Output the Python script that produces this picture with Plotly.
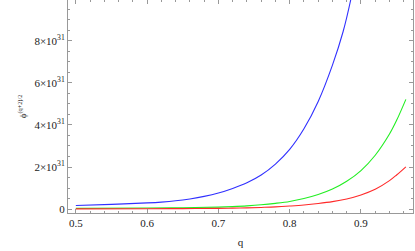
import plotly.graph_objects as go

# q values and series (units of 1e31)
q_blue = [0.50, 0.55, 0.60, 0.62, 0.64, 0.66, 0.68, 0.70, 0.72, 0.74, 0.76, 0.78, 0.80, 0.82, 0.84, 0.86, 0.875, 0.8856, 0.895]
v_blue = [0.17, 0.22, 0.29, 0.33, 0.39, 0.48, 0.60, 0.76, 0.98, 1.25, 1.62, 2.14, 2.84, 3.82, 5.12, 6.85, 8.45, 9.95, 11.6]

q_green = [0.50, 0.60, 0.65, 0.70, 0.72, 0.74, 0.76, 0.78, 0.80, 0.82, 0.84, 0.86, 0.88, 0.90, 0.92, 0.94, 0.95, 0.963]
v_green = [0.03, 0.045, 0.06, 0.09, 0.115, 0.15, 0.20, 0.27, 0.36, 0.50, 0.69, 0.95, 1.32, 1.83, 2.56, 3.57, 4.22, 5.22]

q_red = [0.50, 0.60, 0.65, 0.70, 0.72, 0.74, 0.76, 0.78, 0.80, 0.82, 0.84, 0.86, 0.88, 0.90, 0.92, 0.94, 0.95, 0.963]
v_red = [0.005, 0.012, 0.02, 0.032, 0.042, 0.055, 0.075, 0.10, 0.14, 0.19, 0.26, 0.35, 0.48, 0.67, 0.94, 1.35, 1.62, 2.01]

y_tickvals = [0, 2, 4, 6, 8]
y_ticktext = ["0", "2×10<sup>31</sup>", "4×10<sup>31</sup>", "6×10<sup>31</sup>", "8×10<sup>31</sup>"]
x_tickvals = [0.5, 0.6, 0.7, 0.8, 0.9]
x_ticktext = ["0.5", "0.6", "0.7", "0.8", "0.9"]

SCALE = 1e31
fig = go.Figure()
for qs, vs, col in [(q_blue, v_blue, "#3030ff"), (q_green, v_green, "#22ee22"), (q_red, v_red, "#ff2a2a")]:
    fig.add_trace(go.Scatter(x=qs, y=[v * SCALE for v in vs], mode="lines",
                             line=dict(color=col, width=1.1, shape="spline", smoothing=1.0),
                             showlegend=False, hoverinfo="skip"))

FAM = "Liberation Serif, Times New Roman, serif"
font = dict(family=FAM, size=11, color="#222")
axis_common = dict(showgrid=False, zeroline=False, showline=True, linecolor="#999", linewidth=1,
                   mirror="allticks", ticks="inside", ticklen=4, tickcolor="#999", tickwidth=1,
                   tickfont=font, automargin=False)
fig.update_xaxes(range=[0.489, 0.973], tickvals=x_tickvals, ticktext=x_ticktext,
                 minor=dict(dtick=0.02, tick0=0.5, ticks="inside", ticklen=2, tickcolor="#999"),
                 title=dict(text="q", font=font, standoff=10), **axis_common)
fig.update_yaxes(range=[-0.19 * SCALE, 9.95 * SCALE], tickvals=[v * SCALE for v in y_tickvals],
                 ticktext=y_ticktext,
                 minor=dict(dtick=0.5 * SCALE, tick0=0, ticks="inside", ticklen=2, tickcolor="#999"),
                 title=dict(text="ϕ<sup>(q+2)/2</sup>", font=dict(family=FAM, size=9, color="#222"), standoff=6),
                 **axis_common)
fig.update_layout(width=415, height=251, margin=dict(l=68, r=2, t=0, b=38),
                  paper_bgcolor="white", plot_bgcolor="white", font=font)
fig.write_html("out.html", config={"displayModeBar": False},
               post_script="document.body.style.margin='0';document.body.style.overflow='hidden';")
